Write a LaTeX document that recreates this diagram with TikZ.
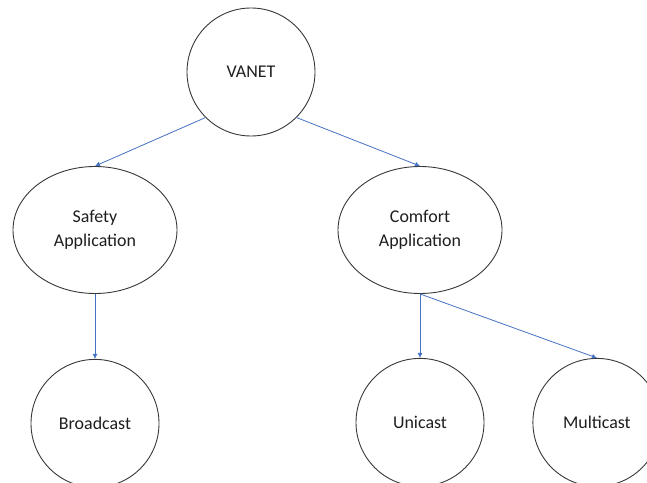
\documentclass[tikz,border=0pt]{standalone}
\usepackage{fontspec}
\setmainfont{Carlito}
\usetikzlibrary{positioning,arrows.meta,shapes.geometric}
\definecolor{linkblue}{HTML}{4472C4}
\definecolor{rimgray}{HTML}{383838}
\definecolor{labeltext}{HTML}{1E1E1E}

\begin{document}
\begin{tikzpicture}[
      x=1bp, y=-1bp,
      every node/.style={font=\fontsize{18}{24}\selectfont, text=labeltext},
      bubble/.style={
        ellipse,
        draw=rimgray, line width=0.9bp,
        inner sep=0pt,
        align=center,
        minimum width=128bp, minimum height=128bp
      },
      appbubble/.style={bubble, minimum width=164bp, minimum height=127bp},
      link/.style={draw=linkblue, line width=0.8bp, -{Latex[length=5bp,width=5bp]}}
    ]
      \clip (0,0) rectangle (647,483);
      \node[bubble] (vanet) at (251,72) {VANET};
      \node[appbubble] (safety) at (95,230) {Safety\\Application};
      \node[appbubble] (comfort) at (420,230) {Comfort\\Application};
      % leaves of the tree
      \node[bubble, below=65bp of safety] (broadcast) {Broadcast};
      \node[bubble, below=64bp of comfort] (unicast) {Unicast};
      \node[bubble, right=48bp of unicast] (multicast) {Multicast};

      \draw[link] (vanet.-135) -- (safety.north);
      \draw[link] (vanet.-45) -- (comfort.north);
      \draw[link] (safety.south) -- (broadcast.north);
      \draw[link] (comfort.south) -- (unicast.north);
      \draw[link] (comfort.south) -- (multicast.north);
    \end{tikzpicture}
\end{document}
